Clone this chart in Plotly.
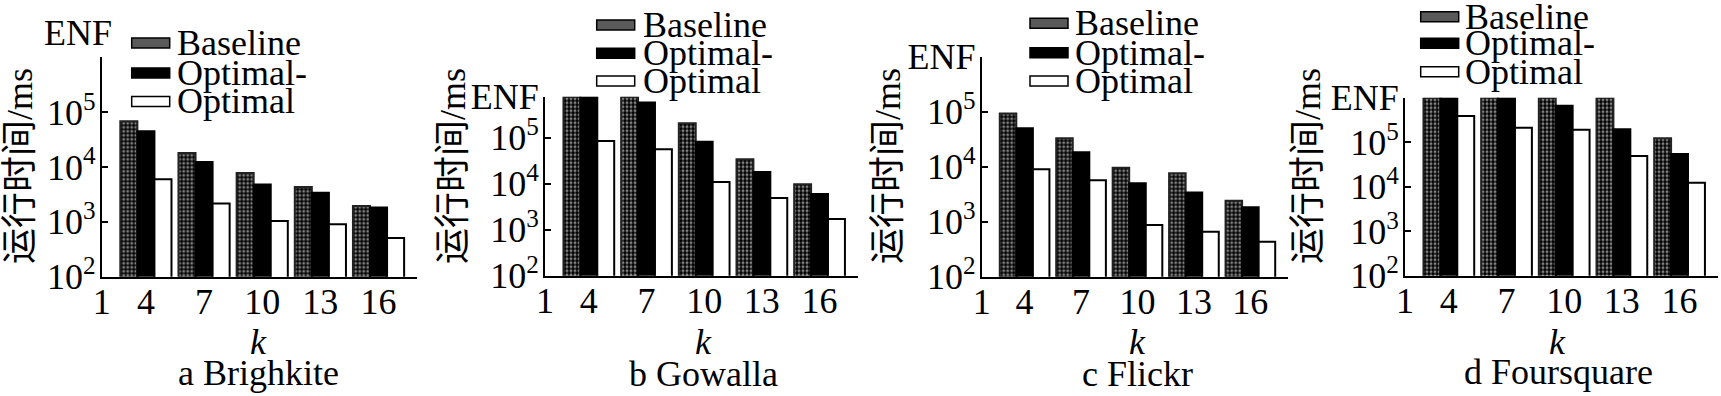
import math
import plotly.graph_objects as go

# ---------------- data ----------------
K = [4, 7, 10, 13, 16]
K_LABELS = ["1", "4", "7", "10", "13", "16"]
SERIES = ["Baseline", "Optimal-", "Optimal"]

ENF_GOWALLA = 7.8e5
ENF_FOURSQUARE = 1.0e6

brightkite_baseline = [6.8e4, 1.8e4, 7.8e3, 4.3e3, 1.95e3]
brightkite_optimal_minus = [4.5e4, 1.24e4, 4.8e3, 3.4e3, 1.83e3]
brightkite_optimal = [6.0e3, 2.16e3, 1.04e3, 9.0e2, 5.1e2]

gowalla_baseline = [ENF_GOWALLA, ENF_GOWALLA, 2.06e5, 3.4e4, 9.7e3]
gowalla_optimal_minus = [ENF_GOWALLA, 5.8e5, 8.2e4, 1.8e4, 6.0e3]
gowalla_optimal = [8.5e4, 5.6e4, 1.09e4, 4.9e3, 1.7e3]

flickr_baseline = [9.3e4, 3.3e4, 9.6e3, 7.6e3, 2.4e3]
flickr_optimal_minus = [5.0e4, 1.83e4, 5.0e3, 3.4e3, 1.83e3]
flickr_optimal = [9.0e3, 5.7e3, 8.7e2, 6.6e2, 4.3e2]

foursquare_baseline = [ENF_FOURSQUARE, ENF_FOURSQUARE, ENF_FOURSQUARE, ENF_FOURSQUARE, 1.23e5]
foursquare_optimal_minus = [ENF_FOURSQUARE, ENF_FOURSQUARE, 6.6e5, 1.96e5, 5.4e4]
foursquare_optimal = [3.9e5, 2.1e5, 1.9e5, 4.9e4, 1.23e4]

CAPTIONS = ["a Brighkite", "b Gowalla", "c Flickr", "d Foursquare"]
Y_TITLE = "运行时间/ms"
X_TITLE = "k"

# ---------------- layout helpers ----------------
W, H = 1721, 396
SERIF = "Liberation Serif"
FS = 36


def fx(px):
    return px / W


def fy(py):
    return 1 - py / H


def tfont(size=FS, family=SERIF):
    return dict(family=family, size=size, color="black")


panels = [
    dict(data=[brightkite_baseline, brightkite_optimal_minus, brightkite_optimal],
         box=(101.7, 417.3, 57.3, 276.7), top=1e6, top_label="",
         ytitle_x=20, k_x=258, cap=(258, 373),
         leg=(131.7, 175, [43, 73, 101.5])),
    dict(data=[gowalla_baseline, gowalla_optimal_minus, gowalla_optimal],
         box=(545, 858, 96.7, 275.7), top=ENF_GOWALLA, top_label="ENF",
         ytitle_x=453, k_x=703, cap=(703, 374),
         leg=(596.7, 640.7, [25, 53.3, 81])),
    dict(data=[flickr_baseline, flickr_optimal_minus, flickr_optimal],
         box=(981.7, 1288, 56.7, 276.7), top=1e6, top_label="ENF",
         ytitle_x=888, k_x=1137, cap=(1137, 374),
         leg=(1030, 1073, [23.3, 52.7, 81])),
    dict(data=[foursquare_baseline, foursquare_optimal_minus, foursquare_optimal],
         box=(1405, 1718, 97.7, 275.7), top=ENF_FOURSQUARE, top_label="ENF",
         ytitle_x=1308, k_x=1557, cap=(1558, 372),
         leg=(1420.7, 1463, [16.7, 43.3, 71.7])),
]

fig = go.Figure()
styles = [
    dict(marker=dict(color="black", line=dict(color="#222", width=2),
                     pattern=dict(shape=".", fgcolor="white", bgcolor="black",
                                  size=4, solidity=0.45, fillmode="overlay"))),
    dict(marker=dict(color="black", line=dict(color="black", width=2))),
    dict(marker=dict(color="white", line=dict(color="black", width=2))),
]

annotations = []
shapes = []
layout_axes = {}

for i, p in enumerate(panels):
    n = "" if i == 0 else str(i + 1)
    xa, ya = "x" + n, "y" + n
    for s, name in enumerate(SERIES):
        fig.add_trace(go.Bar(x=K, y=p["data"][s], name=name, xaxis=xa, yaxis=ya,
                             showlegend=False, **styles[s]))
    x0, x1, ytop, ybot = p["box"]
    tickvals = [1e2, 1e3, 1e4, 1e5, p["top"]]
    ticktext = ["10<sup>2</sup>", "10<sup>3</sup>", "10<sup>4</sup>", "10<sup>5</sup>", p["top_label"]]
    layout_axes["xaxis" + n] = dict(
        domain=[fx(x0), fx(x1)], anchor=ya, range=[1.72, 18.0], automargin=False,
        tickvals=[1.72] + K, ticktext=K_LABELS, ticks="", showline=True,
        ticklabelstandoff=-8,
        linecolor="black", linewidth=2, showgrid=False, zeroline=False,
        tickfont=tfont())
    layout_axes["yaxis" + n] = dict(
        domain=[fy(ybot), fy(ytop)], anchor=xa, type="log", automargin=False,
        range=[2, math.log10(p["top"])], tickvals=tickvals, ticktext=ticktext,
        ticks="inside", ticklen=6, tickwidth=2, tickcolor="black",
        ticklabelstandoff=-3,
        showline=True, linecolor="black", linewidth=2, showgrid=False,
        zeroline=False, tickfont=tfont())
    annotations.append(dict(x=fx(p["ytitle_x"]), y=fy(166),
                            xref="paper", yref="paper", text=Y_TITLE, textangle=-90,
                            showarrow=False, xanchor="center", yanchor="middle",
                            font=tfont(36, "Liberation Serif, Noto Sans CJK SC")))
    annotations.append(dict(x=fx(p["k_x"]), y=fy(342), xref="paper", yref="paper",
                            text="<i>" + X_TITLE + "</i>", showarrow=False,
                            xanchor="center", yanchor="middle", font=tfont()))
    annotations.append(dict(x=fx(p["cap"][0]), y=fy(p["cap"][1]), xref="paper", yref="paper",
                            text=CAPTIONS[i], showarrow=False, xanchor="center",
                            yanchor="middle", font=tfont()))
    sx, tx, rows = p["leg"]
    fills = ["#5a5a5a", "black", "white"]
    for s, name in enumerate(SERIES):
        yc = rows[s]
        shapes.append(dict(type="rect", xref="paper", yref="paper",
                           x0=fx(sx), x1=fx(sx + 38), y0=fy(yc + 5), y1=fy(yc - 5),
                           fillcolor=fills[s], line=dict(color="black", width=1.5)))
        annotations.append(dict(x=fx(tx), y=fy(yc), xref="paper", yref="paper",
                                text=name, showarrow=False, xanchor="left",
                                yanchor="middle", font=tfont()))

annotations.append(dict(x=fx(78), y=fy(33), xref="paper", yref="paper", text="ENF",
                        showarrow=False, xanchor="center", yanchor="middle", font=tfont()))

fig.update_layout(
    width=W, height=H, margin=dict(l=0, r=0, t=0, b=0, autoexpand=False),
    paper_bgcolor="white", plot_bgcolor="white",
    font=tfont(),
    barmode="group", bargap=0.12, bargroupgap=0,
    showlegend=False, annotations=annotations, shapes=shapes,
    **layout_axes)

fig.write_html("out.html", config={"displayModeBar": False},
               post_script="document.body.style.margin='0';")
